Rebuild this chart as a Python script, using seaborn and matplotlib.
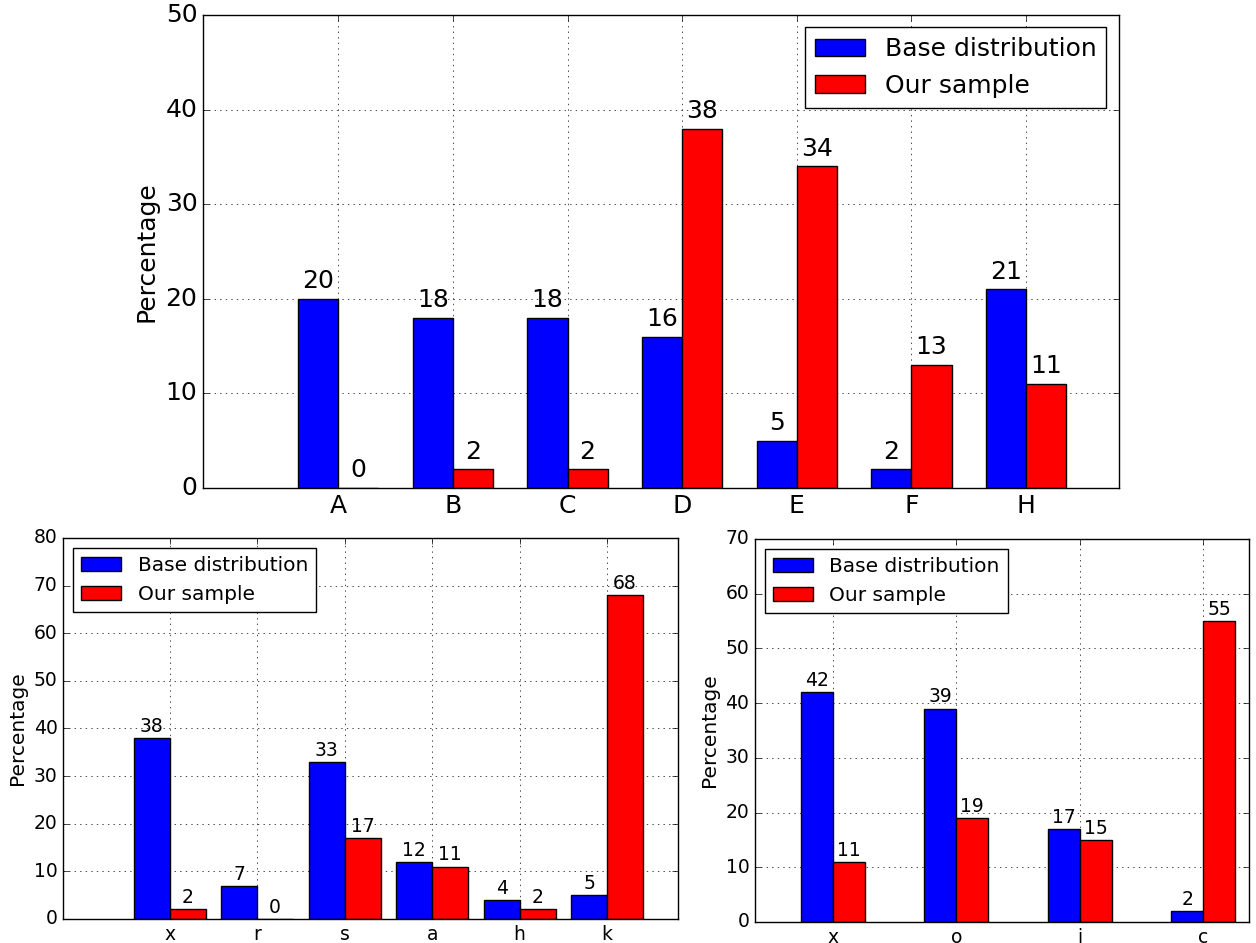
import numpy as np
import pandas as pd
import matplotlib
matplotlib.use("Agg")
import matplotlib.pyplot as plt
import seaborn as sns

# data
series_names = ["Base distribution", "Our sample"]

top_cats = ["A", "B", "C", "D", "E", "F", "H"]
top_base = [20, 18, 18, 16, 5, 2, 21]
top_sample = [0, 2, 2, 38, 34, 13, 11]

left_cats = ["x", "r", "s", "a", "h", "k"]
left_base = [38, 7, 33, 12, 4, 5]
left_sample = [2, 0, 17, 11, 2, 68]

right_cats = ["x", "o", "i", "c"]
right_base = [42, 39, 17, 2]
right_sample = [11, 19, 15, 55]


def make_df(cats, base, sample):
    return pd.DataFrame({
        "cat": cats * 2,
        "series": [series_names[0]] * len(cats) + [series_names[1]] * len(cats),
        "value": base + sample,
    })


plt.style.use("classic")
plt.rcParams["figure.facecolor"] = "white"
plt.rcParams["savefig.facecolor"] = "white"
plt.rcParams["font.family"] = ["DejaVu Sans"]

colors = {series_names[0]: "blue", series_names[1]: "red"}


def draw(ax, cats, base, sample, ymax, xlim, width, fs, lfs, legend_loc, pad):
    df = make_df(cats, base, sample)
    sns.barplot(data=df, x="cat", y="value", hue="series", order=cats,
                hue_order=series_names, palette=colors, saturation=1,
                width=width, edgecolor="black", linewidth=1, errorbar=None,
                legend=False, ax=ax)
    for cont in ax.containers:
        ax.bar_label(cont, fmt="%d", padding=pad, fontsize=fs)
    ax.set_ylim(0, ymax)
    ax.set_xlim(*xlim)
    ax.set_xlabel("")
    ax.set_ylabel("Percentage", fontsize=lfs)
    ax.tick_params(labelsize=fs, direction="in", top=True, right=True)
    ax.grid(True, color="k", linestyle=":", linewidth=0.5)
    ax.set_axisbelow(True)
    ax.legend(ax.containers, series_names, loc=legend_loc, fontsize=lfs,
              fancybox=False, framealpha=1, edgecolor="black")


fig = plt.figure(figsize=(12.56, 9.43), dpi=100)
ax1 = fig.add_axes([0.1616, 0.4825, 0.7293, 0.5016])
ax2 = fig.add_axes([0.0502, 0.0255, 0.4896, 0.4040])
ax3 = fig.add_axes([0.6011, 0.0223, 0.3933, 0.4062])

draw(ax1, top_cats, top_base, top_sample, 50, (-1.18, 6.81), 0.70, 18, 18, "upper right", 4)
draw(ax2, left_cats, left_base, left_sample, 80, (-1.22, 5.81), 0.82, 13.5, 14.5, "upper left", 1.5)
draw(ax3, right_cats, right_base, right_sample, 70, (-0.63, 3.37), 0.52, 13.5, 14.5, "upper left", 1.5)

fig.savefig("out.png", dpi=100)
